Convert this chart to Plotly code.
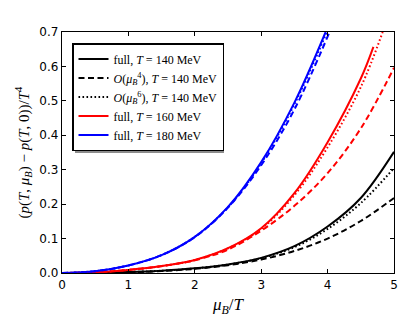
import plotly.graph_objects as go

# ---- data (mu_B/T, (p(T,mu)-p(T,0))/T^4) ----
x_b_full = [0, 0.5, 1, 1.5, 2, 2.5, 3, 3.5, 4, 4.5, 5]
y_b_full = [0, 0.0006, 0.0026, 0.0066, 0.0135, 0.025, 0.044, 0.078, 0.135, 0.218, 0.352]
x_b_o4 = [0, 0.5, 1, 1.5, 2, 2.5, 3, 3.5, 4, 4.5, 5]
y_b_o4 = [0, 0.0005, 0.0022, 0.0057, 0.012, 0.0226, 0.039, 0.064, 0.100, 0.151, 0.218]
x_b_o6 = [0, 0.5, 1, 1.5, 2, 2.5, 3, 3.5, 4, 4.5, 5]
y_b_o6 = [0, 0.0006, 0.0026, 0.0065, 0.0133, 0.0245, 0.043, 0.075, 0.128, 0.203, 0.305]

x_r_full = [0, 0.5, 1, 1.5, 2, 2.5, 3, 3.5, 4, 4.5, 4.69]
y_r_full = [0, 0.0022, 0.009, 0.020, 0.038, 0.072, 0.130, 0.232, 0.380, 0.565, 0.657]
x_r_o4 = [0, 0.5, 1, 1.5, 2, 2.5, 3, 3.5, 4, 4.5, 5]
y_r_o4 = [0, 0.0022, 0.009, 0.0198, 0.037, 0.068, 0.123, 0.195, 0.290, 0.420, 0.596]
x_r_o6 = [0, 0.5, 1, 1.5, 2, 2.5, 3, 3.5, 4, 4.5, 4.83]
y_r_o6 = [0, 0.0022, 0.009, 0.020, 0.0378, 0.0715, 0.128, 0.226, 0.365, 0.540, 0.700]

x_u_full = [0, 0.5, 1, 1.5, 2, 2.5, 3, 3.5, 3.97]
y_u_full = [0, 0.0053, 0.022, 0.052, 0.105, 0.192, 0.322, 0.495, 0.700]
x_u_o4 = [0, 0.5, 1, 1.5, 2, 2.5, 3, 3.5, 4.03]
y_u_o4 = [0, 0.0053, 0.022, 0.052, 0.104, 0.190, 0.313, 0.475, 0.700]
x_u_o6 = [0, 0.5, 1, 1.5, 2, 2.5, 3, 3.5, 3.99]
y_u_o6 = [0, 0.0053, 0.022, 0.052, 0.105, 0.191, 0.319, 0.490, 0.700]

x_ticks = [0, 1, 2, 3, 4, 5]
y_ticks = [0.0, 0.1, 0.2, 0.3, 0.4, 0.5, 0.6, 0.7]

legend_names = [
    "full, <i>T</i> = 140 MeV",
    "<i>O</i>(<i>μ</i><sub><i>B</i></sub><sup>4</sup>), <i>T</i> = 140 MeV",
    "<i>O</i>(<i>μ</i><sub><i>B</i></sub><sup>6</sup>), <i>T</i> = 140 MeV",
    "full, <i>T</i> = 160 MeV",
    "full, <i>T</i> = 180 MeV",
]

DASH = "6px,3.5px"
DOT = "1.6px,2.4px"
W = 2

fig = go.Figure()

def add(x, y, color, dash, name=None):
    fig.add_trace(go.Scatter(
        x=x, y=y, mode="lines",
        line=dict(color=color, width=W, dash=dash, shape="spline", smoothing=1.0),
        name=name if name else "", showlegend=name is not None,
    ))

add(x_b_full, y_b_full, "black", "solid", legend_names[0])
add(x_b_o4, y_b_o4, "black", DASH, legend_names[1])
add(x_b_o6, y_b_o6, "black", DOT, legend_names[2])
add(x_r_full, y_r_full, "red", "solid", legend_names[3])
add(x_u_full, y_u_full, "blue", "solid", legend_names[4])
add(x_r_o4, y_r_o4, "red", DASH)
add(x_r_o6, y_r_o6, "red", DOT)
add(x_u_o4, y_u_o4, "blue", DASH)
add(x_u_o6, y_u_o6, "blue", DOT)

axis_common = dict(
    showgrid=False, zeroline=False, showline=True, linecolor="black", linewidth=1.3,
    mirror="allticks", ticks="inside", ticklen=4, tickwidth=1, tickcolor="black",
    tickfont=dict(family="DejaVu Sans", size=12, color="black"), automargin=False,
)

# the page body adds an 8px offset; figure coordinates = window coordinates - 8
OFF = 8
FW, FH = 415 - OFF, 323 - OFF
L, T = 62 - OFF, 32 - OFF
PW, PH = 332, 241
R, B = FW - L - PW, FH - T - PH

def px_x(p):  # window pixel -> paper x
    return (p - OFF - L) / PW

def px_y(p):  # window pixel -> paper y
    return (T + PH - (p - OFF)) / PH

fig.update_layout(
    width=FW, height=FH,
    margin=dict(l=L, r=R, t=T, b=B),
    paper_bgcolor="white", plot_bgcolor="white",
    showlegend=True,
    legend=dict(
        x=px_x(72), y=px_y(43), xanchor="left", yanchor="top",
        bgcolor="white", bordercolor="black", borderwidth=1.5,
        font=dict(family="Liberation Serif", size=12, color="black"),
        tracegroupgap=0, itemwidth=30,
    ),
    xaxis=dict(range=[0, 5], tickvals=x_ticks, ticktext=[str(v) for v in x_ticks], **axis_common),
    yaxis=dict(range=[0, 0.7], tickvals=y_ticks, ticktext=[f"{v:.1f}" for v in y_ticks], **axis_common),
    annotations=[
        dict(text="<i>μ</i><sub><i>B</i></sub>/<i>T</i>", xref="paper", yref="paper",
             x=0.5, y=px_y(306), xanchor="center", yanchor="middle", showarrow=False,
             font=dict(family="Liberation Serif", size=17, color="black")),
        dict(text="(<i>p</i>(<i>T</i>, <i>μ</i><sub><i>B</i></sub>) − <i>p</i>(<i>T</i>, 0))/<i>T</i><sup>4</sup>",
             xref="paper", yref="paper", x=px_x(23), y=0.5, xanchor="center", yanchor="middle",
             textangle=-90, showarrow=False,
             font=dict(family="Liberation Serif", size=15, color="black")),
    ],
    shapes=[dict(
        type="rect", xref="paper", yref="paper",
        x0=px_x(75), x1=px_x(224),
        y0=px_y(153), y1=px_y(46),
        fillcolor="#8c8c8c", line=dict(width=0), layer="above",
    )],
)

fig.write_html("out.html")
